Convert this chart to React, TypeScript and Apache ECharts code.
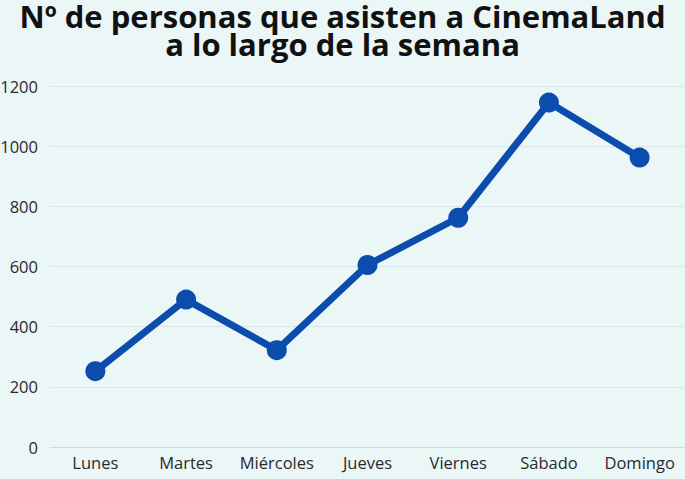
import React, { useEffect, useRef } from "react";
import * as echarts from "echarts";

const categories = ["Lunes", "Martes", "Miércoles", "Jueves", "Viernes", "Sábado", "Domingo"];
const asistentes = [252, 490, 322, 605, 762, 1145, 962];
const titleLines = ["Nº de personas que asisten a CinemaLand", "a lo largo de la semana"];

const titleStyle = {
  fontFamily: "Open Sans",
  fontWeight: "bold",
  fontSize: 31,
  lineHeight: 24,
  color: "#111111",
};

export default function App() {
  const ref = useRef<HTMLDivElement>(null);
  useEffect(() => {
    document.body.style.margin = "0";
    const chart = echarts.init(ref.current!, null, { renderer: "svg" });
    chart.setOption({
      animation: false,
      backgroundColor: "#ebf6f7",
      title: [
        { text: titleLines[0], left: "center", top: 4, padding: 0, textStyle: titleStyle },
        { text: titleLines[1], left: "center", top: 32, padding: 0, textStyle: titleStyle },
      ],
      grid: { left: 50, right: 0, top: 86, bottom: 32, outerBoundsMode: "none", containLabel: false },
      xAxis: {
        type: "category",
        data: categories,
        boundaryGap: true,
        axisTick: { show: false },
        axisLine: { lineStyle: { color: "#cfdcdf", width: 1 } },
        axisLabel: { interval: 0, fontFamily: "Open Sans", fontSize: 16.5, color: "#2a2a2a", margin: 7 },
      },
      yAxis: {
        type: "value",
        min: 0,
        max: 1200,
        interval: 200,
        axisLine: { show: false },
        axisTick: { show: false },
        splitLine: { lineStyle: { color: "#d9e7e9", width: 1 } },
        axisLabel: {
          fontFamily: "Open Sans",
          fontSize: 16.5,
          color: "#2a2a2a",
          margin: 12,
          formatter: (v: number) => String(v),
        },
      },
      series: [
        {
          type: "line",
          data: asistentes,
          symbol: "circle",
          symbolSize: 20,
          lineStyle: { color: "#0b4cad", width: 7 },
          itemStyle: { color: "#0b4cad" },
        },
      ],
    });
    return () => chart.dispose();
  }, []);
  return <div ref={ref} style={{ width: 685, height: 479 }} />;
}
